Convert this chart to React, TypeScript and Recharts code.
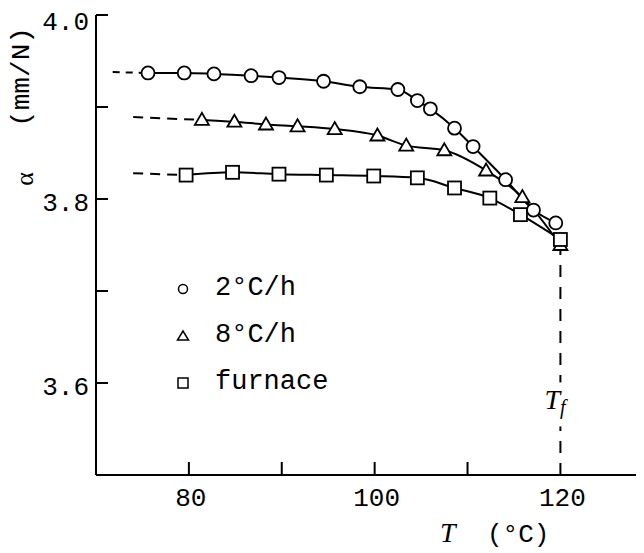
import React from 'react';
import { LineChart, Line, XAxis, YAxis, ReferenceLine, ReferenceDot, Legend } from 'recharts';

const MONO = '"Liberation Mono", "DejaVu Sans Mono", monospace';
const SERIF = '"Liberation Serif", "DejaVu Serif", serif';

// Series names
const seriesNames = ['2°C/h', '8°C/h', 'furnace'];

// 2°C/h cooling (circles)
const slowT = [75.6, 79.5, 82.7, 86.7, 89.7, 94.5, 98.4, 102.5, 104.6, 106.0, 108.6, 110.6, 114.1, 117.1, 119.5];
const slowAlpha = [3.937, 3.937, 3.936, 3.934, 3.932, 3.928, 3.922, 3.919, 3.907, 3.898, 3.877, 3.857, 3.821, 3.788, 3.774];

// 8°C/h cooling (triangles)
const midT = [81.4, 84.9, 88.3, 91.7, 95.7, 100.3, 103.4, 107.5, 112.0, 115.9, 120.0];
const midAlpha = [3.886, 3.884, 3.881, 3.879, 3.876, 3.869, 3.858, 3.853, 3.831, 3.802, 3.750];

// furnace cooling (squares)
const furnT = [79.7, 84.7, 89.7, 94.8, 99.9, 104.6, 108.6, 112.4, 115.7, 120.0];
const furnAlpha = [3.826, 3.829, 3.827, 3.826, 3.825, 3.823, 3.812, 3.801, 3.783, 3.756];

// dashed extrapolation toward lower temperatures
const slowLeadT = [71.8, 75.6];
const slowLeadAlpha = [3.938, 3.937];
const midLeadT = [74.0, 81.4];
const midLeadAlpha = [3.889, 3.886];
const furnLeadT = [74.0, 79.7];
const furnLeadAlpha = [3.828, 3.826];

// fictive temperature marker
const Tf = 120;
const TfTop = 3.745;
const TfLabelAlpha = 3.58;

// axes
const xDomain = [70, 129];
const yDomain = [3.5, 4.0];
const xTicks = [80, 90, 100, 110, 120];
const xTickMarks = [80, 90, 100, 110];
const xTickLabels = [80, 100, 120];
const yTicks = [3.6, 3.7, 3.8, 3.9, 4.0];
const yTickLabels = [3.6, 3.8, 4.0];

const zip = (ts: number[], as: number[]) => ts.map((t, i) => ({ T: t, a: as[i] }));

const slowData = zip(slowT, slowAlpha);
const midData = zip(midT, midAlpha);
const furnData = zip(furnT, furnAlpha);
const slowLead = zip(slowLeadT, slowLeadAlpha);
const midLead = zip(midLeadT, midLeadAlpha);
const furnLead = zip(furnLeadT, furnLeadAlpha);

const renderCircle = (p: any) =>
  p.cx == null ? null : (
    <circle key={`c${p.index}`} cx={p.cx} cy={p.cy} r={6.5} fill="#fff" stroke="#000" strokeWidth={1.8} />
  );

const renderTriangle = (p: any) =>
  p.cx == null ? null : (
    <polygon
      key={`t${p.index}`}
      points={`${p.cx},${p.cy - 7} ${p.cx - 7},${p.cy + 5} ${p.cx + 7},${p.cy + 5}`}
      fill="#fff"
      stroke="#000"
      strokeWidth={1.8}
    />
  );

const renderSquare = (p: any) =>
  p.cx == null ? null : (
    <rect key={`s${p.index}`} x={p.cx - 6.5} y={p.cy - 6.5} width={13} height={13} fill="#fff" stroke="#000" strokeWidth={1.8} />
  );

const XTick = (props: any) => {
  const { x, y, payload } = props;
  const v = payload.value;
  return (
    <g>
      {xTickMarks.includes(v) && <line x1={x} x2={x} y1={y} y2={y - 13} stroke="#000" strokeWidth={2} />}
      {xTickLabels.includes(v) && (
        <text x={x + 2} y={y + 31} textAnchor="middle" fontFamily={MONO} fontSize={26} fill="#000">
          {v}
        </text>
      )}
    </g>
  );
};

const YTick = (props: any) => {
  const { x, y, payload } = props;
  const v = payload.value as number;
  const labelled = yTickLabels.some((l) => Math.abs(l - v) < 1e-6);
  const top = Math.abs(v - yDomain[1]) < 1e-6;
  return (
    <g>
      <line x1={x} x2={x + 12} y1={y} y2={y} stroke="#000" strokeWidth={2} />
      {labelled && (
        <text x={x - 7} y={y + (top ? 15 : 12)} textAnchor="end" fontFamily={MONO} fontSize={26} fill="#000">
          {v.toFixed(1)}
        </text>
      )}
    </g>
  );
};

const XTitle = (p: any) => {
  const vb = p.viewBox || { x: 88, y: 467 };
  return (
    <text y={vb.y + 67} fill="#000">
      <tspan x={vb.x + 344} fontFamily={SERIF} fontStyle="italic" fontSize={28}>
        T
      </tspan>
      <tspan x={vb.x + 391} fontFamily={MONO} fontSize={26}>
        (°C)
      </tspan>
    </text>
  );
};

const YTitle = () => (
  <g fill="#000">
    <text
      x={16}
      y={171}
      transform="rotate(-90 16 171)"
      textAnchor="middle"
      dominantBaseline="central"
      fontFamily={SERIF}
      fontSize={26}
    >
      α
    </text>
    <text
      x={14}
      y={69}
      transform="rotate(-90 14 69)"
      textAnchor="middle"
      dominantBaseline="central"
      fontFamily={MONO}
      fontSize={26}
      textLength={100}
      lengthAdjust="spacingAndGlyphs"
    >
      (mm/N)
    </text>
  </g>
);

const TfLabel = (p: any) => {
  const { cx, cy } = p;
  if (cx == null) return null;
  return (
    <g>
      <rect x={cx - 18} y={cy - 19} width={34} height={44} fill="#fff" />
      <text x={cx - 16} y={cy + 8} fontFamily={SERIF} fontStyle="italic" fontSize={28} fill="#000">
        T
        <tspan fontSize={20} dy={5}>
          f
        </tspan>
      </text>
    </g>
  );
};

const LegendMarker = ({ kind }: { kind: number }) => (
  <svg width={20} height={20} style={{ display: 'block' }}>
    {kind === 0 && <circle cx={10} cy={10} r={4.5} fill="#fff" stroke="#000" strokeWidth={1.5} />}
    {kind === 1 && <polygon points="10,5 4.5,14 15.5,14" fill="#fff" stroke="#000" strokeWidth={1.5} />}
    {kind === 2 && <rect x={5} y={5} width={10} height={10} fill="#fff" stroke="#000" strokeWidth={1.5} />}
  </svg>
);

const LegendBox = () => (
  <div style={{ fontFamily: MONO, fontSize: 27, color: '#000' }}>
    {seriesNames.map((name, i) => (
      <div key={name} style={{ display: 'flex', alignItems: 'center', height: 47 }}>
        <LegendMarker kind={i} />
        <span style={{ marginLeft: 22, lineHeight: '27px' }}>{name}</span>
      </div>
    ))}
  </div>
);

export default function App() {
  return (
    <div style={{ width: 636, height: 545 }}>
      <LineChart width={636} height={545} margin={{ top: 7, right: 0, bottom: 0, left: 0 }}>
        <XAxis
          dataKey="T"
          type="number"
          domain={xDomain}
          allowDataOverflow
          ticks={xTicks}
          interval={0}
          tickSize={0}
          tickMargin={0}
          tick={<XTick />}
          height={78}
          axisLine={{ stroke: '#000', strokeWidth: 2 }}
          label={XTitle}
        />
        <YAxis
          type="number"
          domain={yDomain}
          allowDataOverflow
          ticks={yTicks}
          interval={0}
          tickSize={0}
          tickMargin={0}
          tick={<YTick />}
          width={88}
          axisLine={{ stroke: '#000', strokeWidth: 2 }}
          label={YTitle}
        />
        <ReferenceLine
          segment={[
            { x: Tf, y: yDomain[0] },
            { x: Tf, y: TfTop },
          ]}
          stroke="#000"
          strokeWidth={2}
          strokeDasharray="12 10"
        />
        <ReferenceDot x={Tf} y={TfLabelAlpha} r={0} shape={TfLabel} />
        <Line data={slowLead} dataKey="a" type="linear" stroke="#000" strokeWidth={2} strokeDasharray="7 6" dot={false} activeDot={false} isAnimationActive={false} legendType="none" />
        <Line data={midLead} dataKey="a" type="linear" stroke="#000" strokeWidth={2} strokeDasharray="10 7" dot={false} activeDot={false} isAnimationActive={false} legendType="none" />
        <Line data={furnLead} dataKey="a" type="linear" stroke="#000" strokeWidth={2} strokeDasharray="10 7" dot={false} activeDot={false} isAnimationActive={false} legendType="none" />
        <Line data={midData} dataKey="a" name={seriesNames[1]} type="monotone" stroke="#000" strokeWidth={2} dot={renderTriangle} activeDot={false} isAnimationActive={false} />
        <Line data={furnData} dataKey="a" name={seriesNames[2]} type="monotone" stroke="#000" strokeWidth={2} dot={renderSquare} activeDot={false} isAnimationActive={false} />
        <Line data={slowData} dataKey="a" name={seriesNames[0]} type="monotone" stroke="#000" strokeWidth={2} dot={renderCircle} activeDot={false} isAnimationActive={false} />
        <Legend
          layout="vertical"
          align="center"
          verticalAlign="middle"
          wrapperStyle={{ left: 165, top: 257, width: 220 }}
          content={() => <LegendBox />}
        />
      </LineChart>
    </div>
  );
}
